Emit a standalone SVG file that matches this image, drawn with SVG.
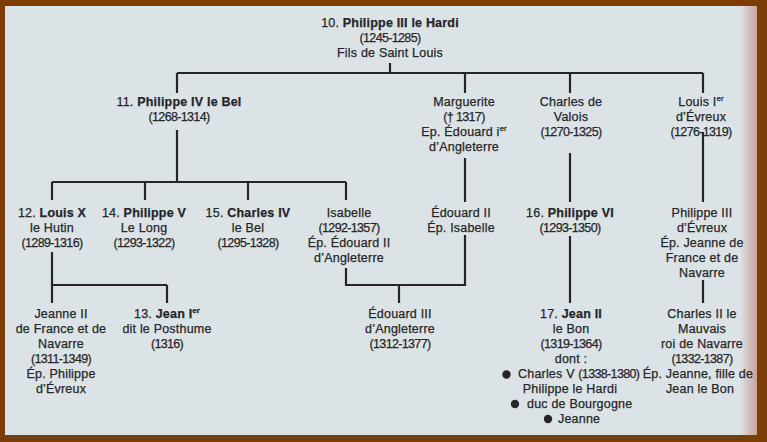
<svg xmlns="http://www.w3.org/2000/svg" width="767" height="442" viewBox="0 0 767 442">
<defs>
<linearGradient id="edge" x1="0" y1="0" x2="1" y2="0">
<stop offset="0" stop-color="#dce3e6"/>
<stop offset="1" stop-color="#c6a39a"/>
</linearGradient>
<style>
text { font-family: "Liberation Sans", Arial, sans-serif; font-size: 12.5px; fill: #262626; text-anchor: middle; letter-spacing: 0.2px; stroke: #262626; stroke-width: 0.25px; }
.b { font-weight: bold; }
.d { letter-spacing: -0.65px; }
.s { font-size: 8px; letter-spacing: 0; }
.l { text-anchor: start; }
#connectors path { stroke: #262626; stroke-width: 2.2; fill: none; }
.dot { fill: #262626; }
</style>
</defs>
<rect x="0" y="0" width="767" height="442" fill="#7a3d08"/>
<rect x="5" y="6" width="752" height="429" fill="#dce3e6"/>
<rect x="740" y="6" width="17" height="429" fill="url(#edge)"/>

<g id="connectors">
<path d="M390 63 V73"/>
<path d="M177 73 H703"/>
<path d="M177 73 V93"/>
<path d="M465 73 V93"/>
<path d="M570 73 V93"/>
<path d="M703 73 V93"/>
<path d="M177 130 V182"/>
<path d="M52 182 H346"/>
<path d="M52 182 V200"/>
<path d="M145 182 V200"/>
<path d="M248 182 V200"/>
<path d="M346 182 V200"/>
<path d="M465 158 V202"/>
<path d="M570 153 V202"/>
<path d="M703 132 V202"/>
<path d="M52 252 V285 H167"/>
<path d="M52 285 V303"/>
<path d="M167 285 V303"/>
<path d="M346 268 V285 H465 V235"/>
<path d="M399 285 V303"/>
<path d="M570 236 V303"/>
<path d="M703 280 V303"/>
</g>

<g id="n10">
<text x="390" y="27">10. <tspan class="b">Philippe III le Hardi</tspan></text>
<text x="390" y="42" class="d">(1245-1285)</text>
<text x="390" y="57">Fils de Saint Louis</text>
</g>
<g id="n11">
<text x="179" y="106">11. <tspan class="b">Philippe IV le Bel</tspan></text>
<text x="179" y="121" class="d">(1268-1314)</text>
</g>
<g id="marguerite">
<text x="464" y="106">Marguerite</text>
<text x="464" y="121" class="d">(† 1317)</text>
<text x="464" y="136">Ep. Édouard i<tspan class="s" dy="-5">er</tspan></text>
<text x="464" y="151">d’Angleterre</text>
</g>
<g id="charles-valois">
<text x="571" y="106">Charles de</text>
<text x="571" y="121">Valois</text>
<text x="571" y="136" class="d">(1270-1325)</text>
</g>
<g id="louis-evreux">
<text x="701" y="106">Louis I<tspan class="s" dy="-5">er</tspan></text>
<text x="701" y="121">d’Évreux</text>
<text x="701" y="136" class="d">(1276-1319)</text>
</g>

<g id="n12">
<text x="52" y="217">12. <tspan class="b">Louis X</tspan></text>
<text x="52" y="232">le Hutin</text>
<text x="52" y="247" class="d">(1289-1316)</text>
</g>
<g id="n14">
<text x="144" y="217">14. <tspan class="b">Philippe V</tspan></text>
<text x="144" y="232">Le Long</text>
<text x="144" y="247" class="d">(1293-1322)</text>
</g>
<g id="n15">
<text x="248" y="217">15. <tspan class="b">Charles IV</tspan></text>
<text x="248" y="232">le Bel</text>
<text x="248" y="247" class="d">(1295-1328)</text>
</g>
<g id="isabelle">
<text x="349" y="217">Isabelle</text>
<text x="349" y="232" class="d">(1292-1357)</text>
<text x="349" y="247">Ép. Édouard II</text>
<text x="349" y="262">d’Angleterre</text>
</g>
<g id="edouard2">
<text x="461" y="217">Édouard II</text>
<text x="461" y="232">Ép. Isabelle</text>
</g>
<g id="n16">
<text x="570" y="217">16. <tspan class="b">Philippe VI</tspan></text>
<text x="570" y="232" class="d">(1293-1350)</text>
</g>
<g id="philippe-evreux">
<text x="702" y="217">Philippe III</text>
<text x="702" y="232">d’Évreux</text>
<text x="702" y="247">Ép. Jeanne de</text>
<text x="702" y="262">France et de</text>
<text x="702" y="277">Navarre</text>
</g>

<g id="jeanne2">
<text x="61" y="318">Jeanne II</text>
<text x="61" y="333">de France et de</text>
<text x="61" y="348">Navarre</text>
<text x="61" y="363" class="d">(1311-1349)</text>
<text x="61" y="378">Ép. Philippe</text>
<text x="61" y="393">d’Évreux</text>
</g>
<g id="n13">
<text x="167" y="318">13. <tspan class="b">Jean I<tspan class="s" dy="-5">er</tspan></tspan></text>
<text x="167" y="333">dit le Posthume</text>
<text x="167" y="348" class="d">(1316)</text>
</g>
<g id="edouard3">
<text x="400" y="318">Édouard III</text>
<text x="400" y="333">d’Angleterre</text>
<text x="400" y="348" class="d">(1312-1377)</text>
</g>
<g id="n17">
<text x="571" y="318">17. <tspan class="b">Jean II</tspan></text>
<text x="571" y="333">le Bon</text>
<text x="571" y="348" class="d">(1319-1364)</text>
<text x="571" y="363">dont :</text>
<circle class="dot" cx="506.5" cy="374.5" r="4.2"/>
<text x="518" y="378" class="l">Charles V <tspan class="d">(1338-1380)</tspan></text>
<text x="570" y="393">Philippe le Hardi</text>
<circle class="dot" cx="515" cy="404" r="4.2"/>
<text x="527" y="408" class="l">duc de Bourgogne</text>
<circle class="dot" cx="548" cy="419" r="4.2"/>
<text x="558" y="423" class="l">Jeanne</text>
</g>
<g id="charles2">
<text x="702" y="318">Charles II le</text>
<text x="702" y="333">Mauvais</text>
<text x="702" y="348">roi de Navarre</text>
<text x="702" y="363" class="d">(1332-1387)</text>
<text x="698" y="378">Ép. Jeanne, fille de</text>
<text x="700" y="393">Jean le Bon</text>
</g>
</svg>
